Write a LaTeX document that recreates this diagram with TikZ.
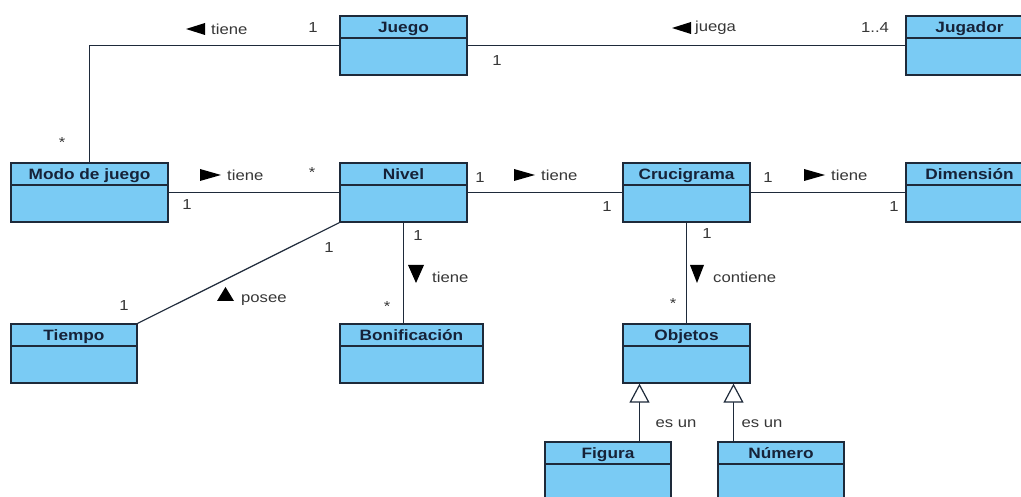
\documentclass[tikz,border=0pt]{standalone}
\usepackage{fontspec}
\setmainfont{Liberation Sans}[FakeStretch=1.15]
\usetikzlibrary{arrows.meta}
\definecolor{clsfill}{RGB}{122,203,244}
\definecolor{clsline}{RGB}{30,42,58}
\definecolor{clstext}{RGB}{22,34,56}
\definecolor{lbltext}{RGB}{55,55,55}
\tikzset{
  umlclass/.style={draw=clsline, fill=clsfill, line width=1.3pt, inner sep=0pt,
    minimum width=127pt, minimum height=59pt,
    path picture={\draw[clsline, line width=1.3pt]
      ([yshift=-22pt]path picture bounding box.north west) --
      ([yshift=-22pt]path picture bounding box.north east);},
    label={[clstitle]north:#1}},
  clstitle/.style={anchor=base, yshift=-17.5pt, inner sep=0pt, text=clstext,
    font=\fontsize{15}{17}\selectfont\bfseries},
  lbl/.style={inner sep=0pt, text=lbltext, font=\fontsize{14.5}{16}\selectfont},
  assoc/.style={draw=clsline, line width=1.2pt},
  gen/.style={assoc, -{Triangle[open, length=19pt, width=20pt, fill=white]}},
  navtri/.style={fill=black}
}
\begin{document}
\begin{tikzpicture}[x=1pt, y=-1pt]
\useasboundingbox (0,0) rectangle (1021,497);

% classes
\node[umlclass=Juego]          (juego)   at (403.5,45.5) {};
\node[umlclass=Jugador]        (jugador) at (969.5,45.5) {};
\node[umlclass={Modo de juego}, minimum width=157pt] (modo) at (89.5,192.5) {};
\node[umlclass=Nivel]          (nivel)   at (403.5,192.5) {};
\node[umlclass=Crucigrama]     (cruc)    at (686.5,192.5) {};
\node[umlclass=Dimensión]      (dim)     at (969.5,192.5) {};
\node[umlclass=Tiempo, minimum width=126pt] (tiempo) at (74,353.5) {};
\node[umlclass=Bonificación, minimum width=143pt] (bonif) at (411.5,353.5) {};
\node[umlclass=Objetos]        (obj)     at (686.5,353.5) {};
\node[umlclass=Figura, minimum width=126pt] (figura) at (608,471.5) {};
\node[umlclass=Número, minimum width=126pt] (numero) at (781,471.5) {};

% associations
\draw[assoc] (juego.west) -| (modo.north);
\draw[assoc] (juego.east) -- (jugador.west);
\draw[assoc] (modo.east) -- (nivel.west);
\draw[assoc] (nivel.east) -- (cruc.west);
\draw[assoc] (cruc.east) -- (dim.west);
\draw[assoc] (nivel.south west) -- (tiempo.north east);
\draw[assoc] (nivel.south) -- (nivel.south |- bonif.north);
\draw[assoc] (cruc.south) -- (obj.north);

% generalizations
\draw[gen] ([xshift=-47pt]obj.south |- figura.north) -- ([xshift=-47pt]obj.south);
\draw[gen] ([xshift=47pt]obj.south |- numero.north) -- ([xshift=47pt]obj.south);

% association names with direction marks
\node[lbl, anchor=west] (n1) at (211,29) {tiene};
\fill[navtri] ([xshift=-6pt]n1.west) ++(0,-6) -- ++(0,12) -- ++(-19,-6) -- cycle;
\node[lbl, anchor=west] (n2) at (695,28) {juega};
\fill[navtri] ([xshift=-4pt]n2.west) ++(0,-6) -- ++(0,12) -- ++(-19,-6) -- cycle;
\node[lbl, anchor=west] (n3) at (227,175) {tiene};
\fill[navtri] ([xshift=-6pt]n3.west) -- ++(-21,-6) -- ++(0,12) -- cycle;
\node[lbl, anchor=west] (n4) at (541,175) {tiene};
\fill[navtri] ([xshift=-6pt]n4.west) -- ++(-21,-6) -- ++(0,12) -- cycle;
\node[lbl, anchor=west] (n5) at (831,175) {tiene};
\fill[navtri] ([xshift=-6pt]n5.west) -- ++(-21,-6) -- ++(0,12) -- cycle;
\node[lbl, anchor=west] (n6) at (241,300) {posee};
\fill[navtri] ([xshift=-7pt,yshift=-1pt]n6.west) -- ++(-17,0) -- ++(8.5,-14) -- cycle;
\node[lbl, anchor=west] (n7) at (432,277) {tiene};
\fill[navtri] ([xshift=-8pt,yshift=12pt]n7.west) -- ++(-16,0) -- ++(8,18) -- cycle;
\node[lbl, anchor=west] (n8) at (713,277) {contiene};
\fill[navtri] ([xshift=-9pt,yshift=12pt]n8.west) -- ++(-14,0) -- ++(7,18) -- cycle;
\node[lbl] (g1) at (676,424) {es un};
\node[lbl] (g2) at (762,424) {es un};

% multiplicities
\node[lbl] (m1) at (313,28) {1};
\node[lbl] (m2) at (497,61) {1};
\node[lbl] (m3) at (875,28) {1..4};
\node[lbl] (m4) at (62,143) {*};
\node[lbl] (m5) at (187,205) {1};
\node[lbl] (m6) at (312,173) {*};
\node[lbl] (m7) at (480,178) {1};
\node[lbl] (m8) at (607,207) {1};
\node[lbl] (m9) at (768,178) {1};
\node[lbl] (m10) at (894,207) {1};
\node[lbl] (m11) at (329,248) {1};
\node[lbl] (m12) at (124,306) {1};
\node[lbl] (m13) at (418,236) {1};
\node[lbl] (m14) at (387,307) {*};
\node[lbl] (m15) at (707,234) {1};
\node[lbl] (m16) at (673,304) {*};
\end{tikzpicture}
\end{document}
